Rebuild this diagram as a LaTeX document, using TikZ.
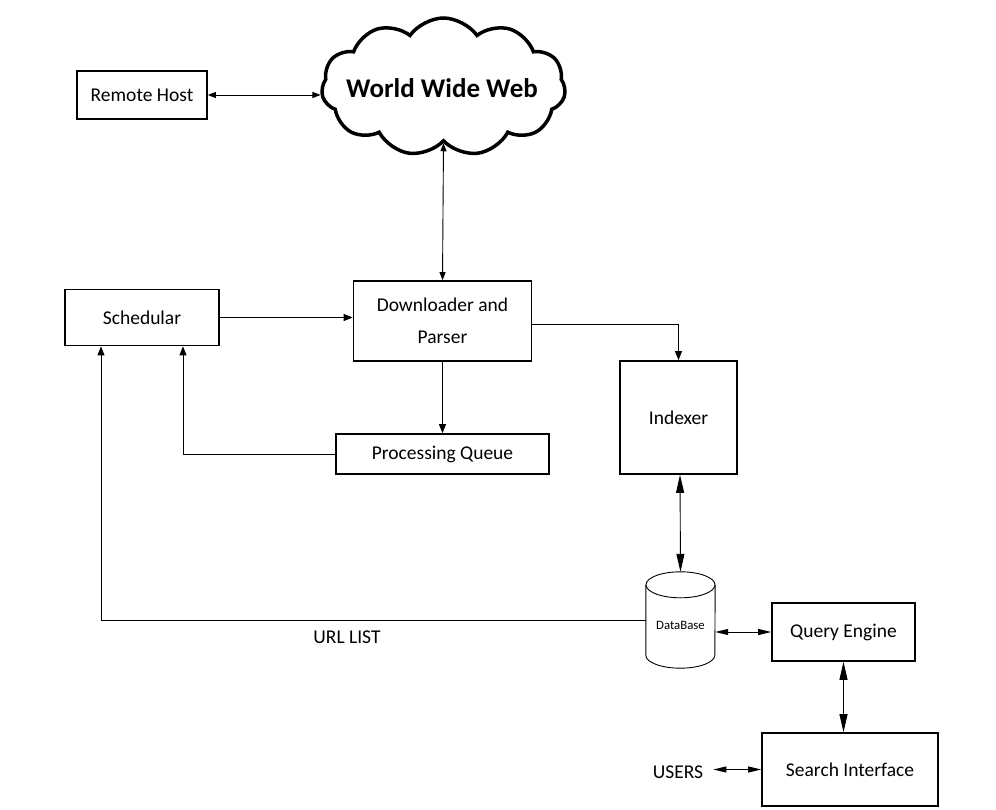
\documentclass[tikz,border=0pt]{standalone}
\usepackage{fontspec}
\setmainfont{Carlito}
\usetikzlibrary{arrows.meta,shapes.symbols,calc}
\begin{document}
\begin{tikzpicture}[x=1pt,y=-1pt,
  box/.style={draw,line width=1.7pt,inner sep=0pt,align=center,font=\fontsize{19.5}{32}\selectfont},
  conn/.style={line width=0.9pt},
  tipA/.style={-{Triangle[length=9pt,width=7pt]}},
  tipB/.style={{Triangle[length=8pt,width=6pt]}-{Triangle[length=8pt,width=6pt]}},
  tipL/.style={{Triangle[length=18pt,width=8pt]}-{Triangle[length=18pt,width=8pt]}},
  tipM/.style={{Triangle[length=13pt,width=6pt]}-{Triangle[length=13pt,width=6pt]}}]
\useasboundingbox (0,0) rectangle (996,810);
\fill[white] (0,0) rectangle (996,810);

\node[cloud, draw, line width=3.5pt, cloud puffs=11, cloud puff arc=110, aspect=1.8,
      minimum width=244pt, minimum height=138pt, inner sep=0pt] (www) at (443.5,87) {};
\node[font=\bfseries\fontsize{27}{30}\selectfont, inner sep=0pt] (wwwt) at (442,88) {World Wide Web};
\node[box, minimum width=130pt, minimum height=48pt] (rh) at (142,95) {Remote Host};
\node[box, minimum width=178pt, minimum height=80pt] (dl) at (442.5,321) {Downloader and\\Parser};
\node[box, minimum width=154pt, minimum height=56pt] (sch) at (142,317.5) {Schedular};
\node[box, minimum width=213pt, minimum height=40pt] (pq) at (442.5,454) {Processing Queue};
\node[box, minimum width=117pt, minimum height=113pt] (idx) at (678.5,417.5) {Indexer};
% database cylinder
\node[minimum width=69pt, minimum height=96pt, inner sep=0pt] (db) at (680.5,620) {};
\draw[line width=0.9pt, fill=white]
  ($(db.north west)+(0,13)$) -- ($(db.south west)+(0,-13)$)
  arc[start angle=180, end angle=360, x radius=34.5pt, y radius=13pt]
  -- ($(db.north east)+(0,13)$);
\draw[line width=0.9pt] ($(db.north)+(0,13)$) ellipse[x radius=34.5pt, y radius=13pt];
\node[font=\fontsize{12.8}{14}\selectfont, inner sep=0pt] (dbt) at (680.5,625) {DataBase};
\node[box, minimum width=143pt, minimum height=58pt] (qe) at (843.5,632) {Query Engine};
\node[box, minimum width=176pt, minimum height=73pt] (si) at (850,769.5) {Search Interface};
\node[font=\fontsize{19.5}{22}\selectfont, inner sep=0pt] (users) at (678,772) {USERS};
\node[font=\fontsize{19.5}{22}\selectfont, inner sep=0pt] (url) at (347,637) {URL LIST};

\draw[conn,tipB] (rh.east) -- (rh.east -| www.west);
\draw[conn,tipB] (www.south) -- (dl.north);
\draw[conn,tipA] (sch.east) -- (sch.east -| dl.west);
\draw[conn,tipA] ([yshift=-3pt]dl.east) -| (idx.north);
\draw[conn,tipA] (dl.south) -- (pq.north);
\draw[conn,tipA] (pq.west) -| ([xshift=41pt]sch.south);
\draw[conn,tipA] (db.west) -| ([xshift=-41pt]sch.south);
\draw[conn,tipL] ([xshift=1.5pt]idx.south) -- (db.north);
\draw[conn,tipM] (qe.west) -- (qe.west -| db.east);
\draw[conn,tipL] (qe.south) -- (qe.south |- si.north);
\draw[conn,tipM] (si.west) -- ([xshift=10pt]si.west -| users.east);
\end{tikzpicture}
\end{document}
